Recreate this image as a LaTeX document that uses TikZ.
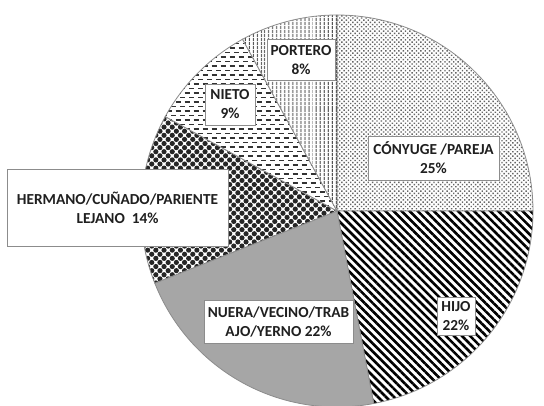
\documentclass[tikz,border=0pt]{standalone}
\usepackage{fontspec}
\setmainfont{Carlito}
\usetikzlibrary{patterns,patterns.meta}
\pgfdeclarepatternformonly{hdashes}{\pgfqpoint{-1pt}{-1pt}}{\pgfqpoint{10pt}{10pt}}{\pgfqpoint{9pt}{9pt}}{%
  \pgfsetlinewidth{1.5pt}%
  \pgfpathmoveto{\pgfqpoint{0pt}{2.25pt}}\pgfpathlineto{\pgfqpoint{5pt}{2.25pt}}%
  \pgfpathmoveto{\pgfqpoint{4.5pt}{6.75pt}}\pgfpathlineto{\pgfqpoint{9.5pt}{6.75pt}}%
  \pgfusepath{stroke}}
\definecolor{edge}{HTML}{8C8C8C}
\definecolor{txt}{HTML}{1F1F1F}
\tikzset{
  slice/.style={draw=edge, line width=0.8pt},
  lbl/.style={draw=edge, fill=white, line width=0.9pt, font=\bfseries\fontsize{15.3}{19}\selectfont,
    text=txt, align=center, inner sep=0pt},
}
\begin{document}
\begin{tikzpicture}[x=1pt,y=1pt]
\useasboundingbox (0,0) rectangle (544,-406);
\clip (0,0) rectangle (544,-406);
\begin{scope}[shift={(337,-211)}]
  \def\R{196pt}
  % CONYUGE 25%
  \fill[white] (0,0) -- (90:\R) arc[start angle=90, end angle=0, radius=\R] -- cycle;
  \path[pattern={Dots[radius=1pt, distance=3.1pt, angle=45]}, pattern color=black!60] (0,0) -- (90:\R) arc[start angle=90, end angle=0, radius=\R] -- cycle;
  \draw[slice] (0,0) -- (90:\R) arc[start angle=90, end angle=0, radius=\R] -- cycle;
  % HIJO 22%
  \fill[white] (0,0) -- (0:\R) arc[start angle=0, end angle=-79.2, radius=\R] -- cycle;
  \path[pattern={Lines[angle=-45, distance=5.7pt, line width=2.6pt]}, pattern color=black] (0,0) -- (0:\R) arc[start angle=0, end angle=-79.2, radius=\R] -- cycle;
  \draw[slice] (0,0) -- (0:\R) arc[start angle=0, end angle=-79.2, radius=\R] -- cycle;
  % NUERA 22%
  \draw[slice, fill=black!35] (0,0) -- (-79.2:\R) arc[start angle=-79.2, end angle=-158.4, radius=\R] -- cycle;
  % HERMANO 14%
  \fill[white] (0,0) -- (-158.4:\R) arc[start angle=-158.4, end angle=-208.8, radius=\R] -- cycle;
  \path[pattern={Dots[radius=2.6pt, distance=5.8pt, angle=45]}, pattern color=black!85] (0,0) -- (-158.4:\R) arc[start angle=-158.4, end angle=-208.8, radius=\R] -- cycle;
  \draw[slice] (0,0) -- (-158.4:\R) arc[start angle=-158.4, end angle=-208.8, radius=\R] -- cycle;
  % NIETO 9%
  \fill[white] (0,0) -- (151.2:\R) arc[start angle=151.2, end angle=118.8, radius=\R] -- cycle;
  \path[pattern=hdashes, pattern color=black!80] (0,0) -- (151.2:\R) arc[start angle=151.2, end angle=118.8, radius=\R] -- cycle;
  \draw[slice] (0,0) -- (151.2:\R) arc[start angle=151.2, end angle=118.8, radius=\R] -- cycle;
  % PORTERO 8%
  \fill[white] (0,0) -- (118.8:\R) arc[start angle=118.8, end angle=90, radius=\R] -- cycle;
  \path[pattern={Lines[angle=90, distance=4pt, line width=1.1pt]}, pattern color=black!75] (0,0) -- (118.8:\R) arc[start angle=118.8, end angle=90, radius=\R] -- cycle;
  \draw[slice] (0,0) -- (118.8:\R) arc[start angle=118.8, end angle=90, radius=\R] -- cycle;
\end{scope}
% labels
\node[lbl, minimum width=68pt, minimum height=41pt] (portero) at (301,-60) {PORTERO\\8\%};
\node[lbl, minimum width=50pt, minimum height=41pt] (nieto) at (230,-104.5) {NIETO\\9\%};
\node[lbl, minimum width=131pt, minimum height=44pt] (conyuge) at (433.5,-158) {CÓNYUGE /PAREJA\\25\%};
\node[lbl, minimum width=221pt, minimum height=77pt] (hermano) at (117.5,-207.5) {HERMANO/CUÑADO/PARIENTE\\LEJANO\ \ 14\%};
\node[lbl, minimum width=149pt, minimum height=43pt] (nuera) at (278.5,-321.5) {NUERA/VECINO/TRAB\\AJO/YERNO 22\%};
\node[lbl, minimum width=38pt, minimum height=38pt] (hijo) at (456,-316) {HIJO\\22\%};
\end{tikzpicture}
\end{document}
